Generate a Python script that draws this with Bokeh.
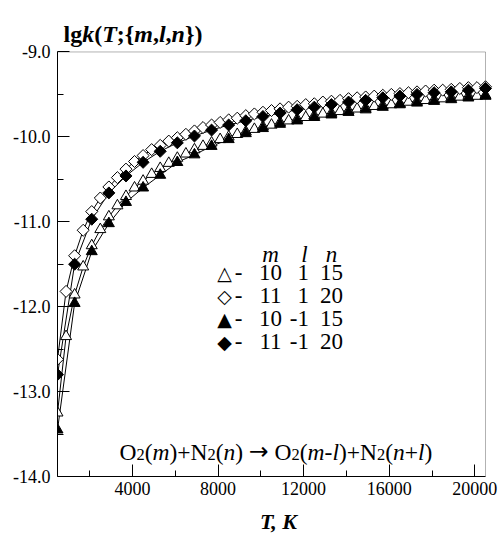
import numpy as np
from bokeh.plotting import figure
from bokeh.models import Range1d, FixedTicker, PrintfTickFormatter, Label, BoxAnnotation
from bokeh.embed import file_html
from bokeh.resources import INLINE

# ---------------- data ----------------
T_open = [500, 900, 1300, 1700, 2100, 2500, 2900, 3300, 3700, 4100, 4500, 4900, 5300, 5700,
          6100, 6500, 6900, 7300, 7700, 8100, 8500, 8900, 9300, 9700, 10100, 10500, 10900,
          11300, 11700, 12100, 12500, 12900, 13300, 13700, 14100, 14500, 14900, 15300, 15700,
          16100, 16500, 16900, 17300, 17700, 18100, 18500, 18900, 19300, 19700, 20100, 20500]
T_filled = [500, 1300, 2100, 2900, 3700, 4500, 5300, 6100, 6900, 7700, 8500, 9300, 10100,
            10900, 11700, 12500, 13300, 14100, 14900, 15700, 16500, 17300, 18100, 18900,
            19700, 20500]

# {m,l,n} = {10, 1, 15}  open triangles
lgk_10_1_15 = [-13.25, -12.35, -11.86, -11.53, -11.28, -11.09, -10.94, -10.81, -10.70, -10.60,
               -10.52, -10.44, -10.37, -10.31, -10.25, -10.20, -10.15, -10.11, -10.07, -10.03,
               -10.00, -9.97, -9.94, -9.91, -9.88, -9.86, -9.83, -9.81, -9.79, -9.77, -9.75,
               -9.73, -9.72, -9.70, -9.69, -9.67, -9.66, -9.64, -9.63, -9.62, -9.61, -9.59,
               -9.58, -9.57, -9.56, -9.55, -9.54, -9.53, -9.52, -9.52, -9.51]
# {11, 1, 20}  open diamonds
lgk_11_1_20 = [-12.62, -11.82, -11.40, -11.10, -10.88, -10.72, -10.59, -10.48, -10.38, -10.29,
               -10.22, -10.15, -10.10, -10.05, -10.01, -9.97, -9.93, -9.89, -9.86, -9.83,
               -9.80, -9.78, -9.75, -9.73, -9.71, -9.69, -9.67, -9.65, -9.64, -9.62, -9.61,
               -9.59, -9.58, -9.57, -9.55, -9.54, -9.53, -9.52, -9.51, -9.50, -9.49, -9.48,
               -9.47, -9.46, -9.45, -9.45, -9.44, -9.43, -9.42, -9.42, -9.41]
# {10, -1, 15}  filled triangles
lgk_10_m1_15 = [-13.45, -11.96, -11.35, -11.02, -10.77, -10.60, -10.45, -10.30, -10.21, -10.11,
                -10.03, -9.96, -9.90, -9.85, -9.81, -9.77, -9.74, -9.71, -9.68, -9.65, -9.62,
                -9.60, -9.58, -9.56, -9.54, -9.52]
# {11, -1, 20}  filled diamonds
lgk_11_m1_20 = [-12.80, -11.50, -10.97, -10.66, -10.46, -10.30, -10.17, -10.07, -9.99, -9.92,
                -9.86, -9.81, -9.76, -9.72, -9.68, -9.65, -9.62, -9.59, -9.57, -9.54, -9.52,
                -9.50, -9.48, -9.47, -9.45, -9.43]

x_major = [4000, 8000, 12000, 16000, 20000]
x_minor = [2000, 6000, 10000, 14000, 18000]
y_major = [-14, -13, -12, -11, -10, -9]
y_minor = [-13.5, -12.5, -11.5, -10.5, -9.5]

legend_sym = ["\u25b3", "\u25c7", "\u25b2", "\u25c6"]
legend_m = ["10", "11", "10", "11"]
legend_l = ["1", "1", "-1", "-1"]
legend_n = ["15", "20", "15", "20"]

# ---------------- figure ----------------
FONT = "Liberation Serif"
SYMFONT = "DejaVu Sans"
X0, X1, Y0, Y1 = 500, 20500, -14, -9
W, H = 499, 536
FL, FT, FR, FB = 57, 52, 485, 481   # plot-box edges in canvas pixels
FRAME_R = W                         # drawing frame reaches the right edge (edge markers not cut)
X_END = X1 + (FRAME_R - FR) * (X1 - X0) / (FR - FL)
Y_TOP = Y1 + FT * (Y1 - Y0) / (FB - FT)   # frame reaches the top edge so the title is drawn

p = figure(width=W, height=H, output_backend="svg", toolbar_location=None, title=None,
           x_range=Range1d(X0, X_END), y_range=Range1d(Y0, Y_TOP),
           min_border_left=FL, min_border_top=0,
           min_border_right=W - FRAME_R, min_border_bottom=H - FB)
p.background_fill_color = "white"
p.border_fill_color = "white"
p.outline_line_color = None
p.xgrid.visible = False
p.ygrid.visible = False

for ax in (p.xaxis[0], p.yaxis[0]):
    ax.axis_line_color = "black"
    ax.major_tick_line_color = "black"
    ax.minor_tick_line_color = "black"
    ax.major_tick_in = 12
    ax.major_tick_out = 0
    ax.minor_tick_in = 6
    ax.minor_tick_out = 0
    ax.major_label_text_font = FONT
    ax.major_label_text_font_size = "18px"
    ax.major_label_text_color = "black"

p.xaxis.ticker = FixedTicker(ticks=x_major, minor_ticks=x_minor)
p.yaxis.ticker = FixedTicker(ticks=y_major, minor_ticks=y_minor)
p.yaxis.formatter = PrintfTickFormatter(format="%.1f")
p.yaxis.bounds = (Y0, Y1)
p.xaxis.bounds = (X0, X1)
p.xaxis.major_label_standoff = 5
p.yaxis.major_label_standoff = 7
p.xaxis.axis_label = "T, K"
p.xaxis.axis_label_text_font = FONT
p.xaxis.axis_label_text_font_size = "22px"
p.xaxis.axis_label_text_font_style = "bold italic"
p.xaxis.axis_label_text_color = "black"
p.xaxis.axis_label_standoff = 11

# plot box
p.add_layout(BoxAnnotation(left=X0, right=X1, bottom=Y0, top=Y1, fill_alpha=0,
                           line_color="black", line_width=1))

# lines
p.line(T_open, lgk_10_1_15, line_color="black", line_width=1)
p.line(T_open, lgk_11_1_20, line_color="black", line_width=1)
p.line(T_filled, lgk_10_m1_15, line_color="black", line_width=1)
p.line(T_filled, lgk_11_m1_20, line_color="black", line_width=1)

# markers
p.scatter(T_open, lgk_10_1_15, marker="triangle", size=11,
          fill_color="white", line_color="black", line_width=1)
p.scatter(T_open, lgk_11_1_20, marker="square", angle=np.pi / 4, size=8.5,
          fill_color="white", line_color="black", line_width=1)
p.scatter(T_filled, lgk_10_m1_15, marker="triangle", size=11,
          fill_color="black", line_color="black", line_width=1)
p.scatter(T_filled, lgk_11_m1_20, marker="square", angle=np.pi / 4, size=8.5,
          fill_color="black", line_color="black", line_width=1)


def lab(text, px, py, size, style="normal", align="left", baseline="alphabetic", font=FONT):
    p.add_layout(Label(x=px, y=py, x_units="canvas", y_units="canvas", text=text,
                       text_font=font, text_font_size=f"{size}px", text_font_style=style,
                       text_align=align, text_baseline=baseline, text_color="black"))


# ---------------- legend (text) ----------------
ROW0, PITCH = 272, 23
for k in range(4):
    yy = ROW0 + k * PITCH
    lab(legend_sym[k], 224, yy, 19, align="center", baseline="middle", font=SYMFONT)
    lab("-", 238, yy, 23, align="center", baseline="middle")
    lab(legend_m[k], 270, yy, 23, align="center", baseline="middle")
    lab(legend_l[k], 308.5, yy, 23, align="right", baseline="middle")
    lab(legend_n[k], 331, yy, 23, align="center", baseline="middle")
lab("m", 270, 254, 23, "italic", "center")
lab("l", 304, 254, 23, "italic", "center")
lab("n", 331, 254, 23, "italic", "center")

# ---------------- rich texts ----------------
WID = {
    "normal": {" ": 250, "(": 333, ")": 333, "+": 564, "-": 333, "2": 500, "O": 722, "N": 722,
               "\u2192": 838},
    "italic": {"m": 722, "n": 500, "l": 278},
    "bold": {"l": 278, "g": 500, "(": 333, ")": 333, ";": 333, "{": 394, "}": 394, ",": 250,
             " ": 250, "K": 778},
    "bold italic": {"k": 500, "T": 611, "m": 778, "l": 278, "n": 556},
}


def rich(pieces, px, py, size):
    for txt, style, scale, dy, font in pieces:
        s = size * scale
        lab(txt, px, py + dy, round(s, 1), style, font=font)
        px += sum(WID[style][c] for c in txt) / 1000.0 * s


N, I, B, BI = "normal", "italic", "bold", "bold italic"
SUB = 0.7
F = FONT
eq = [("O", N, 1, 0, F), ("2", N, SUB, 2, F), ("(", N, 1, 0, F), ("m", I, 1, 0, F),
      (")", N, 1, 0, F), ("+", N, 1, 0, F), ("N", N, 1, 0, F), ("2", N, SUB, 2, F),
      ("(", N, 1, 0, F), ("n", I, 1, 0, F), (")", N, 1, 0, F), (" ", N, 1, 0, F),
      ("\u2192", N, 1, -1, SYMFONT), (" ", N, 1, 0, F),
      ("O", N, 1, 0, F), ("2", N, SUB, 2, F), ("(", N, 1, 0, F), ("m", I, 1, 0, F),
      ("-", N, 1, 0, F), ("l", I, 1, 0, F), (")", N, 1, 0, F), ("+", N, 1, 0, F),
      ("N", N, 1, 0, F), ("2", N, SUB, 2, F), ("(", N, 1, 0, F), ("n", I, 1, 0, F),
      ("+", N, 1, 0, F), ("l", I, 1, 0, F), (")", N, 1, 0, F)]
rich(eq, 119, 451.5, 23.5)

title = [("lg", B, 1, 0, F), ("k", BI, 1, 0, F), ("(", B, 1, 0, F), ("T", BI, 1, 0, F),
         (";{", B, 1, 0, F), ("m", BI, 1, 0, F), (",", B, 1, 0, F), ("l", BI, 1, 0, F),
         (",", B, 1, 0, F), ("n", BI, 1, 0, F), ("})", B, 1, 0, F)]
rich(title, 63, 33, 24)

open("out.html", "w").write(file_html(p, INLINE))
